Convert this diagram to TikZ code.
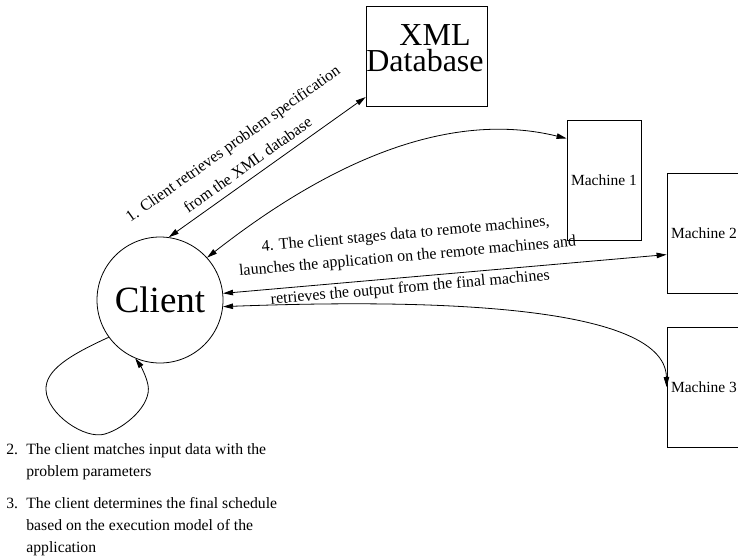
\documentclass[tikz,border=0pt]{standalone}
\usepackage{fontspec}
\setmainfont{Liberation Serif}
\usetikzlibrary{arrows.meta}

\begin{document}
\begin{tikzpicture}[x=1pt,y=-1pt,line width=.8pt,
  >={Triangle[length=10pt,width=5.5pt]},
  box/.style={draw,rectangle,inner sep=0pt},
  mach/.style={box,minimum width=74pt,minimum height=120pt,font=\fontsize{15.5}{18}\selectfont},
  lbl/.style={font=\fontsize{16}{22.5}\selectfont,align=center}]
  \useasboundingbox (0,0) rectangle (738,557);
  \node[draw,circle,minimum size=126pt,inner sep=0pt,font=\fontsize{37}{40}\selectfont] (client) at (160,300) {Client};
  \node[box,minimum width=121pt,minimum height=100pt] (xml) at (426.5,56) {};
  \node[font=\fontsize{32}{26}\selectfont,align=center,inner sep=0pt] (xmltext) at (425,48) {\hspace*{20pt}XML\\Database};
  \node[mach] (m1) at (604,180) {Machine 1};
  \node[mach] (m2) at (704,233) {Machine 2};
  \node[mach] (m3) at (704,387) {Machine 3};
  \draw[<->] (client.82) -- node[lbl,font=\fontsize{16}{26}\selectfont,sloped,above=4pt,pos=.44] {1. Client retrieves problem specification\\from the XML database} (xml.214);
  \draw[<->] (client.42) .. controls (300,185) and (430,105) .. (m1.132);
  \draw[<->] (client.6) -- node[lbl,sloped,above=9pt,pos=.42] {4. The client stages data to remote machines,\\launches the application on the remote machines and}
    node[lbl,sloped,below,pos=.42] {retrieves the output from the final machines} (m2.210);
  \draw[<->] (client.-6) .. controls (400,300) and (665,300) .. (m3.west);
  \draw[->] (client.216) .. controls (70,355) and (45,370) .. (46,390)
    .. controls (47,414) and (85,440) .. (105,434)
    .. controls (125,428) and (152,405) .. (148,385)
    .. controls (146,375) and (140,365) .. (client.247);
  \node[anchor=north west,align=left,inner sep=0pt,font=\fontsize{15.7}{21.7}\selectfont] (steps) at (6,443)
    {\makebox[20pt][l]{2.}The client matches input data with the\\
     \hspace*{20pt}problem parameters\\[11pt]
     \makebox[20pt][l]{3.}The client determines the final schedule\\
     \hspace*{20pt}based on the execution model of the\\
     \hspace*{20pt}application};
\end{tikzpicture}
\end{document}
